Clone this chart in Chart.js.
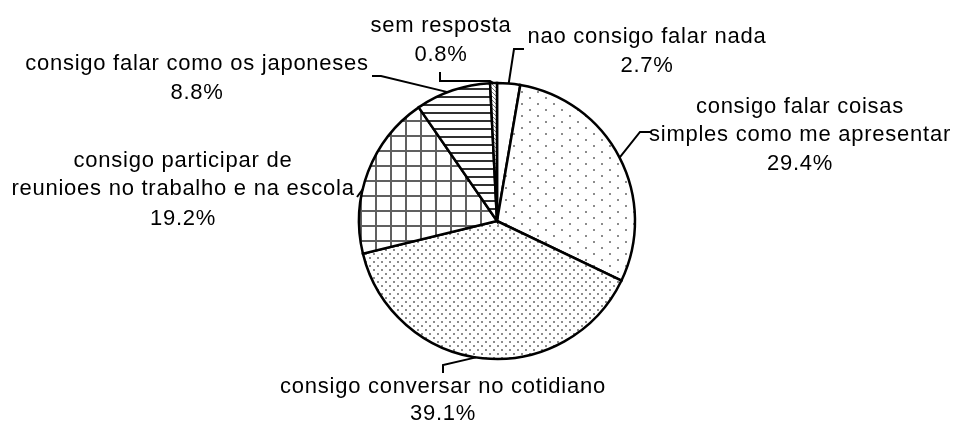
<!DOCTYPE html>
<html>
<head>
<meta charset="utf-8">
<script src="https://cdn.jsdelivr.net/npm/chart.js@4/dist/chart.umd.min.js"></script>
<style>
  html, body { margin: 0; padding: 0; background: #ffffff; }
  #wrap { width: 959px; height: 432px; }
</style>
</head>
<body>
<div id="wrap"><canvas id="c" width="959" height="432"></canvas></div>
<script>
// ---- data ----
const categories = [
  ["nao consigo falar nada"],
  ["consigo falar coisas", "simples como me apresentar"],
  ["consigo conversar no cotidiano"],
  ["consigo participar de", "reunioes no trabalho e na escola"],
  ["consigo falar como os japoneses"],
  ["sem resposta"]
];
const percentages = [2.7, 29.4, 39.1, 19.2, 8.8, 0.8];

// ---- fill patterns ----
function makePattern(w, h, draw) {
  const c = document.createElement('canvas');
  c.width = w; c.height = h;
  const g = c.getContext('2d');
  g.fillStyle = '#ffffff';
  g.fillRect(0, 0, w, h);
  draw(g);
  return document.createElement('canvas').getContext('2d').createPattern(c, 'repeat');
}
const patWhite = '#ffffff';
const patSparse = makePattern(16, 12, g => {
  g.fillStyle = '#8c8c8c';
  g.fillRect(1, 1, 2, 2);
  g.fillRect(9, 7, 2, 2);
});
const patDense = makePattern(8, 8, g => {
  g.fillStyle = '#8c8c8c';
  g.fillRect(1, 1, 2, 2);
  g.fillRect(5, 5, 2, 2);
});
const patGrid = makePattern(15, 15, g => {
  g.fillStyle = '#606060';
  g.fillRect(0, 0, 15, 2);
  g.fillRect(0, 0, 2, 15);
});
const patStripes = makePattern(8, 8, g => {
  g.fillStyle = '#303030';
  g.fillRect(0, 0, 8, 2);
});
const patHatch = makePattern(4, 4, g => {
  g.strokeStyle = '#777777';
  g.lineWidth = 1;
  g.beginPath();
  g.moveTo(0, 0); g.lineTo(4, 4);
  g.stroke();
});
const fills = [patWhite, patSparse, patDense, patGrid, patStripes, patHatch];

// ---- label layout (text placement & leader lines) ----
const labelLayout = [
  { cx: 647, baselines: [43, 72], leader: [[524, 49], [514, 49]], frac: 0.5 },
  { cx: 800, baselines: [113, 141, 170], leader: [[651, 132], [640, 132]], frac: 0.5 },
  { cx: 443, baselines: [393, 420], leader: [[443, 373], [443, 365]], frac: 0.52 },
  { cx: 183, baselines: [167, 195, 225], leader: [[357, 197]], frac: 0.39 },
  { cx: 197, baselines: [70, 99], leader: [[372, 76], [381, 76]], frac: 0.43 },
  { cx: 441, baselines: [32, 61], leader: [[440, 72], [440, 81], [490, 81]], frac: 0.5 }
];

const labelPlugin = {
  id: 'pieLabels',
  afterDraw(chart) {
    const ctx = chart.ctx;
    const meta = chart.getDatasetMeta(0);
    ctx.save();
    ctx.fillStyle = '#000000';
    ctx.font = '22px "Liberation Sans", Arial, sans-serif';
    ctx.textAlign = 'center';
    ctx.textBaseline = 'alphabetic';
    try { ctx.letterSpacing = '0.75px'; } catch (e) {}
    meta.data.forEach((arc, i) => {
      const L = labelLayout[i];
      const lines = categories[i].concat([percentages[i].toFixed(1) + '%']);
      lines.forEach((t, k) => ctx.fillText(t, L.cx, L.baselines[k]));
      const p = arc.getProps(['x', 'y', 'startAngle', 'endAngle', 'outerRadius'], true);
      const a = p.startAngle + (p.endAngle - p.startAngle) * L.frac;
      const ex = p.x + p.outerRadius * Math.cos(a);
      const ey = p.y + p.outerRadius * Math.sin(a);
      ctx.beginPath();
      ctx.strokeStyle = '#000000';
      ctx.lineWidth = 2;
      ctx.lineJoin = 'miter';
      ctx.moveTo(L.leader[0][0], L.leader[0][1]);
      for (let k = 1; k < L.leader.length; k++) ctx.lineTo(L.leader[k][0], L.leader[k][1]);
      ctx.lineTo(ex, ey);
      ctx.stroke();
    });
    ctx.restore();
  }
};

new Chart(document.getElementById('c'), {
  type: 'pie',
  data: {
    labels: categories.map(c => c.join(' ')),
    datasets: [{
      data: percentages,
      backgroundColor: fills,
      borderColor: '#000000',
      borderWidth: 2.5,
      borderJoinStyle: 'miter'
    }]
  },
  options: {
    responsive: false,
    animation: false,
    devicePixelRatio: 1,
    radius: 138,
    layout: { padding: { left: 60, right: 25, top: 20, bottom: 10 } },
    plugins: {
      legend: { display: false },
      tooltip: { enabled: false },
      title: { display: false }
    }
  },
  plugins: [labelPlugin]
});
</script>
</body>
</html>
